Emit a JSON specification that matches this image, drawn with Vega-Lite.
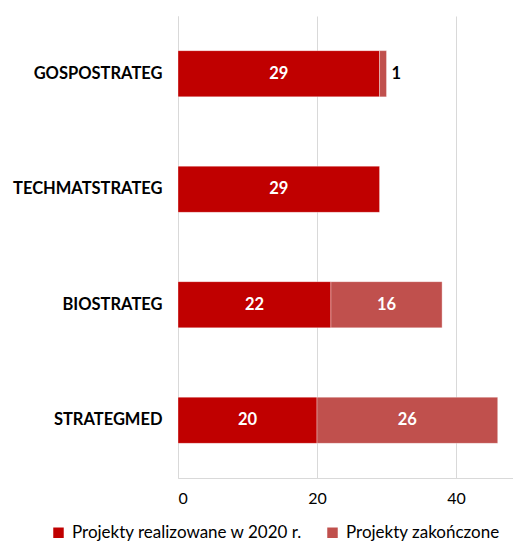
{
  "$schema": "https://vega.github.io/schema/vega-lite/v6.json",
  "width": 335,
  "height": 462,
  "autosize": {"type": "none"},
  "padding": {"left": 178, "top": 16, "right": 0, "bottom": 67},
  "background": "white",
  "config": {
    "font": "Lato",
    "view": {"stroke": null}
  },
  "data": {
    "values": [
      {"program": "GOSPOSTRATEG", "typ": "Projekty realizowane w 2020 r.", "order": 1, "value": 29},
      {"program": "GOSPOSTRATEG", "typ": "Projekty zakończone", "order": 2, "value": 1},
      {"program": "TECHMATSTRATEG", "typ": "Projekty realizowane w 2020 r.", "order": 1, "value": 29},
      {"program": "BIOSTRATEG", "typ": "Projekty realizowane w 2020 r.", "order": 1, "value": 22},
      {"program": "BIOSTRATEG", "typ": "Projekty zakończone", "order": 2, "value": 16},
      {"program": "STRATEGMED", "typ": "Projekty realizowane w 2020 r.", "order": 1, "value": 20},
      {"program": "STRATEGMED", "typ": "Projekty zakończone", "order": 2, "value": 26}
    ]
  },
  "transform": [
    {"stack": "value", "groupby": ["program"], "sort": [{"field": "order"}], "as": ["v0", "v1"]},
    {"calculate": "(datum.v0 + datum.v1) / 2", "as": "mid"}
  ],
  "encoding": {
    "y": {
      "field": "program",
      "type": "nominal",
      "sort": ["GOSPOSTRATEG", "TECHMATSTRATEG", "BIOSTRATEG", "STRATEGMED"],
      "scale": {"paddingInner": 0.6, "paddingOuter": 0.3},
      "axis": {
        "title": null,
        "ticks": false,
        "domainColor": "#d9d9d9",
        "labelFontSize": 16.5,
        "labelFontWeight": "bold",
        "labelColor": "#000000",
        "labelPadding": 16,
        "labelLimit": 200
      }
    }
  },
  "layer": [
    {
      "mark": {"type": "bar", "stroke": "#ffffff", "strokeOpacity": 0.35, "strokeWidth": 1},
      "encoding": {
        "x": {
          "field": "v0",
          "type": "quantitative",
          "scale": {"domain": [0, 48.2], "nice": false},
          "axis": {
            "title": null,
            "values": [0, 20, 40],
            "ticks": false,
            "grid": true,
            "gridColor": "#d9d9d9",
            "domainColor": "#d9d9d9",
            "labelFontSize": 16,
            "labelColor": "#000000",
            "labelPadding": 12
          }
        },
        "x2": {"field": "v1"},
        "color": {
          "field": "typ",
          "type": "nominal",
          "scale": {
            "domain": ["Projekty realizowane w 2020 r.", "Projekty zakończone"],
            "range": ["#c00000", "#c0504d"]
          },
          "legend": {
            "title": null,
            "orient": "none",
            "direction": "horizontal",
            "legendX": -128,
            "legendY": 508,
            "symbolType": "square",
            "symbolSize": 110,
            "symbolStrokeWidth": 0,
            "labelFontSize": 17,
            "labelColor": "#000000",
            "labelLimit": 300,
            "columnPadding": 21,
            "labelOffset": 5
          }
        }
      }
    },
    {
      "transform": [{"filter": "datum.value >= 3"}],
      "mark": {"type": "text", "fontSize": 16.5, "fontWeight": "bold", "color": "#ffffff", "align": "center"},
      "encoding": {
        "x": {"field": "mid", "type": "quantitative"},
        "text": {"field": "value", "type": "quantitative"}
      }
    },
    {
      "transform": [{"filter": "datum.value < 3"}],
      "mark": {"type": "text", "fontSize": 16.5, "fontWeight": "bold", "color": "#000000", "align": "left", "dx": 5},
      "encoding": {
        "x": {"field": "v1", "type": "quantitative"},
        "text": {"field": "value", "type": "quantitative"}
      }
    }
  ]
}
